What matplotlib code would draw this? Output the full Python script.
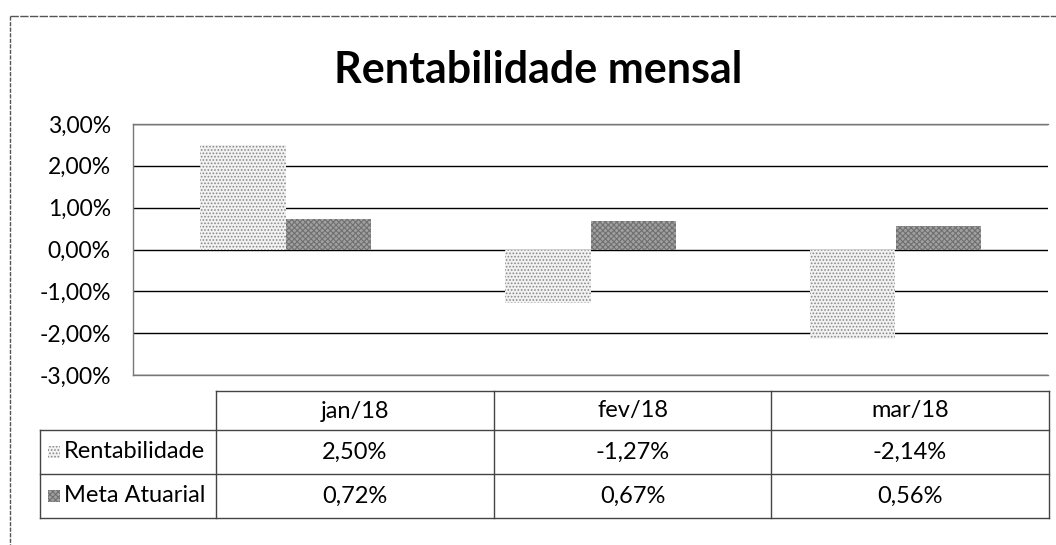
import matplotlib.pyplot as plt
from matplotlib.patches import Rectangle
import numpy as np

plt.rcParams['font.family'] = ['Lato', 'DejaVu Sans']
plt.rcParams['hatch.linewidth'] = 0.8

meses = ['jan/18', 'fev/18', 'mar/18']
rentabilidade = [2.50, -1.27, -2.14]
meta_atuarial = [0.72, 0.67, 0.56]
series = ['Rentabilidade', 'Meta Atuarial']
yticks = [-3, -2, -1, 0, 1, 2, 3]

W, H = 1056, 545
fig = plt.figure(figsize=(W / 100, H / 100), dpi=100)

def fx(px):
    return px / W

def fy(py):
    return 1 - py / H

# moldura externa (pontilhada como na digitalizacao)
fig.add_artist(plt.Line2D([fx(10), fx(10)], [fy(16), 0], color='#555555', lw=1, ls=(0, (3, 1))))
fig.add_artist(plt.Line2D([fx(10), 1], [fy(16), fy(16)], color='#555555', lw=1, ls=(0, (6, 1))))

fig.text(fx(538), fy(70), 'Rentabilidade mensal', ha='center', va='center',
         fontsize=31, fontweight='bold')

# area do grafico
ax = fig.add_axes([fx(133), fy(375), fx(1048 - 133), fy(124) - fy(375)])
x = np.arange(len(meses))
w = 0.28
estilos = [dict(color='#f2f2f2', hatch='.....', edgecolor='#8a8a8a'),
           dict(color='#a0a0a0', hatch='xxxxxx', edgecolor='#707070')]
ax.bar(x - w / 2, rentabilidade, w, linewidth=0, zorder=3, **estilos[0])
ax.bar(x + w / 2, meta_atuarial, w, linewidth=0, zorder=3, **estilos[1])
ax.set_xlim(-0.5, len(meses) - 0.5)
ax.set_ylim(-3, 3)
ax.set_yticks(yticks)
ax.set_yticklabels([f'{v:.2f}%'.replace('.', ',') for v in yticks], fontsize=16.5)
ax.set_xticks([])
ax.tick_params(axis='y', length=0, pad=16)
ax.grid(axis='y', color='black', lw=1, zorder=1)
for s in ax.spines.values():
    s.set_color('#777777')
    s.set_linewidth(1)
ax.spines['right'].set_visible(False)

# tabela de dados
tab = fig.add_axes([0, 0, 1, 1])
tab.set_xlim(0, W)
tab.set_ylim(H, 0)
tab.axis('off')
col_x = [40, 216, 494, 771, 1049]
row_y = [391, 430, 474, 518]
lc = '#444444'
tab.plot([216, 1049], [391, 391], color=lc, lw=1)
for cx in col_x[1:]:
    tab.plot([cx, cx], [391, 518], color=lc, lw=1)
tab.plot([40, 40], [430, 518], color=lc, lw=1)
for ry in row_y[1:]:
    tab.plot([40, 1049], [ry, ry], color=lc, lw=1)
for i, m in enumerate(meses):
    tab.text((col_x[i + 1] + col_x[i + 2]) / 2, 411, m, ha='center', va='center', fontsize=17)
valores = [rentabilidade, meta_atuarial]
for r, nome in enumerate(series):
    yc = (row_y[r + 1] + row_y[r + 2]) / 2
    st = dict(estilos[r])
    st['facecolor'] = st.pop('color')
    tab.add_patch(Rectangle((48, yc - 6), 12, 12, linewidth=0, **st))
    tab.text(64, yc, nome, ha='left', va='center', fontsize=17)
    for i, v in enumerate(valores[r]):
        tab.text((col_x[i + 1] + col_x[i + 2]) / 2, yc, f'{v:.2f}%'.replace('.', ','),
                 ha='center', va='center', fontsize=17)

fig.savefig('out.png', dpi=100)
